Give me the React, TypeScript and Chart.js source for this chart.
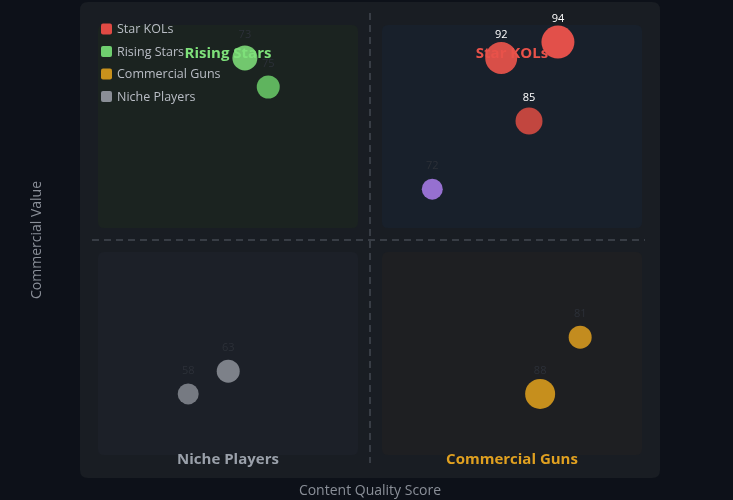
import React, { useEffect, useRef } from "react";
import { Chart, registerables } from "chart.js";

Chart.register(...registerables);

// ---- Data ----
const seriesNames = ["Star KOLs", "Rising Stars", "Commercial Guns", "Niche Players"];
const legendColors = ["#e04a44", "#6fcf6f", "#c8911c", "#8a8e96"];

const starX = [83.8, 73.6, 78.6];
const starY = [93.6, 90.1, 76.2];
const starR = [16.5, 16, 13.5];
const starScore = [94, 92, 85];
const starColors = ["#e2504a", "#d84f48", "#c2463f"];

const emergingX = [61.2];
const emergingY = [61.2];
const emergingR = [10.5];
const emergingScore = [72];
const emergingColors = ["#9670d0"];

const risingX = [27.5, 31.7];
const risingY = [90.1, 83.7];
const risingR = [12.5, 11.5];
const risingScore = [73, 75];
const risingColors = ["#72c76e", "#5fb45e"];

const commercialX = [87.8, 80.6];
const commercialY = [28.6, 16.1];
const commercialR = [11.5, 15];
const commercialScore = [81, 88];
const commercialColors = ["#c38c1f", "#c68f1d"];

const nicheX = [24.5, 17.3];
const nicheY = [21.1, 16.1];
const nicheR = [11.5, 10.5];
const nicheScore = [63, 58];
const nicheColors = ["#7d8189", "#767a82"];

const quadrantLabels = ["Rising Stars", "Star KOLs", "Niche Players", "Commercial Guns"];
const quadrantLabelColors = ["#7ee07a", "#e8524a", "#9aa0aa", "#e0a020"];
const quadrantFills = ["#1b2320", "#18202b", "#1c2028", "#1e1f22"];

const xMid = 50;
const yMid = 50;

const mk = (xs: number[], ys: number[], rs: number[]) =>
  xs.map((x, i) => ({ x, y: ys[i], r: rs[i] }));

function roundRect(ctx: CanvasRenderingContext2D, x: number, y: number, w: number, h: number, r: number) {
  ctx.beginPath();
  ctx.moveTo(x + r, y);
  ctx.lineTo(x + w - r, y);
  ctx.quadraticCurveTo(x + w, y, x + w, y + r);
  ctx.lineTo(x + w, y + h - r);
  ctx.quadraticCurveTo(x + w, y + h, x + w - r, y + h);
  ctx.lineTo(x + r, y + h);
  ctx.quadraticCurveTo(x, y + h, x, y + h - r);
  ctx.lineTo(x, y + r);
  ctx.quadraticCurveTo(x, y, x + r, y);
  ctx.closePath();
}

const backgroundPlugin = {
  id: "quadBackground",
  beforeDraw(chart: any) {
    const { ctx, chartArea: a, scales } = chart;
    ctx.save();
    ctx.fillStyle = "#191d23";
    roundRect(ctx, a.left - 12, a.top - 11, a.right - a.left + 24, a.bottom - a.top + 22, 8);
    ctx.fill();
    const cx = scales.x.getPixelForValue(xMid);
    const cy = scales.y.getPixelForValue(yMid);
    const boxes = [
      [a.left + 6, a.top + 12, cx - 12, cy - 12],
      [cx + 12, a.top + 12, a.right - 6, cy - 12],
      [a.left + 6, cy + 12, cx - 12, a.bottom - 12],
      [cx + 12, cy + 12, a.right - 6, a.bottom - 12],
    ];
    boxes.forEach((b, i) => {
      ctx.fillStyle = quadrantFills[i];
      roundRect(ctx, b[0], b[1], b[2] - b[0], b[3] - b[1], 6);
      ctx.fill();
    });
    ctx.strokeStyle = "#434851";
    ctx.lineWidth = 1.5;
    ctx.setLineDash([7, 5]);
    ctx.beginPath();
    ctx.moveTo(cx, a.top);
    ctx.lineTo(cx, a.bottom - 4);
    ctx.moveTo(a.left, cy);
    ctx.lineTo(a.right - 3, cy);
    ctx.stroke();
    ctx.restore();
  },
  afterDatasetsDraw(chart: any) {
    const { ctx, chartArea: a, scales } = chart;
    const cx = scales.x.getPixelForValue(xMid);
    ctx.save();
    // point labels
    ctx.font = "11px 'Open Sans'";
    ctx.textAlign = "center";
    ctx.textBaseline = "middle";
    chart.data.datasets.forEach((ds: any, di: number) => {
      const meta = chart.getDatasetMeta(di);
      meta.data.forEach((el: any, i: number) => {
        ctx.fillStyle = ds.labelColor;
        ctx.fillText(String(ds.scores[i]), el.x, el.y - 23);
      });
    });
    // quadrant labels
    ctx.font = "bold 15px 'Open Sans'";
    const lx = [(a.left + 6 + cx - 12) / 2, (cx + 12 + a.right - 6) / 2];
    const pos = [
      [lx[0], a.top + 41],
      [lx[1], a.top + 41],
      [lx[0], a.bottom - 7],
      [lx[1], a.bottom - 7],
    ];
    quadrantLabels.forEach((t, i) => {
      ctx.fillStyle = quadrantLabelColors[i];
      ctx.fillText(t, pos[i][0], pos[i][1]);
    });
    // legend
    ctx.font = "12.5px 'Open Sans'";
    ctx.textAlign = "left";
    seriesNames.forEach((n, i) => {
      const y = a.top + 16 + i * 22.5;
      ctx.fillStyle = legendColors[i];
      roundRect(ctx, a.left + 9, y - 5.5, 11, 11, 2);
      ctx.fill();
      ctx.fillStyle = "#b9bdc5";
      ctx.fillText(n, a.left + 25, y + 0.5);
    });
    ctx.restore();
  },
};

export default function App() {
  const ref = useRef<HTMLCanvasElement | null>(null);
  useEffect(() => {
    if (!ref.current) return;
    const chart = new Chart(ref.current, {
      type: "bubble",
      data: {
        datasets: [
          { label: "Star KOLs", data: mk(starX, starY, starR), backgroundColor: starColors, borderWidth: 0, scores: starScore, labelColor: "#ffffff" } as any,
          { label: "Emerging", data: mk(emergingX, emergingY, emergingR), backgroundColor: emergingColors, borderWidth: 0, scores: emergingScore, labelColor: "#2c3038" } as any,
          { label: "Rising Stars", data: mk(risingX, risingY, risingR), backgroundColor: risingColors, borderWidth: 0, scores: risingScore, labelColor: "#2c3038" } as any,
          { label: "Commercial Guns", data: mk(commercialX, commercialY, commercialR), backgroundColor: commercialColors, borderWidth: 0, scores: commercialScore, labelColor: "#2c3038" } as any,
          { label: "Niche Players", data: mk(nicheX, nicheY, nicheR), backgroundColor: nicheColors, borderWidth: 0, scores: nicheScore, labelColor: "#2c3038" } as any,
        ],
      },
      options: {
        animation: false,
        responsive: true,
        maintainAspectRatio: false,
        layout: { autoPadding: false, padding: { left: 24.6, right: 85, top: 13, bottom: 0 } },
        plugins: { legend: { display: false }, tooltip: { enabled: false } },
        scales: {
          x: {
            type: "linear",
            min: 0,
            max: 100,
            grid: { display: false },
            border: { display: false },
            ticks: { display: false },
            title: { display: true, text: "Content Quality Score", color: "#8a8f98", font: { family: "'Open Sans'", size: 14 }, padding: { top: 4, bottom: 0.5 } },
            afterFit: (s: any) => { s.height = 33; },
          },
          y: {
            type: "linear",
            min: 0,
            max: 100,
            grid: { display: false },
            border: { display: false },
            ticks: { display: false },
            title: { display: true, text: "Commercial Value", color: "#8a8f98", font: { family: "'Open Sans'", size: 14 }, padding: { top: 4, bottom: 4 } },
            afterFit: (s: any) => { s.width = 67.4; },
          },
        },
      },
      plugins: [backgroundPlugin],
    } as any);
    return () => chart.destroy();
  }, []);
  return (
    <div style={{ position: "fixed", left: 0, top: 0, width: 733, height: 500, background: "#0d1119" }}>
      <canvas ref={ref} />
    </div>
  );
}
